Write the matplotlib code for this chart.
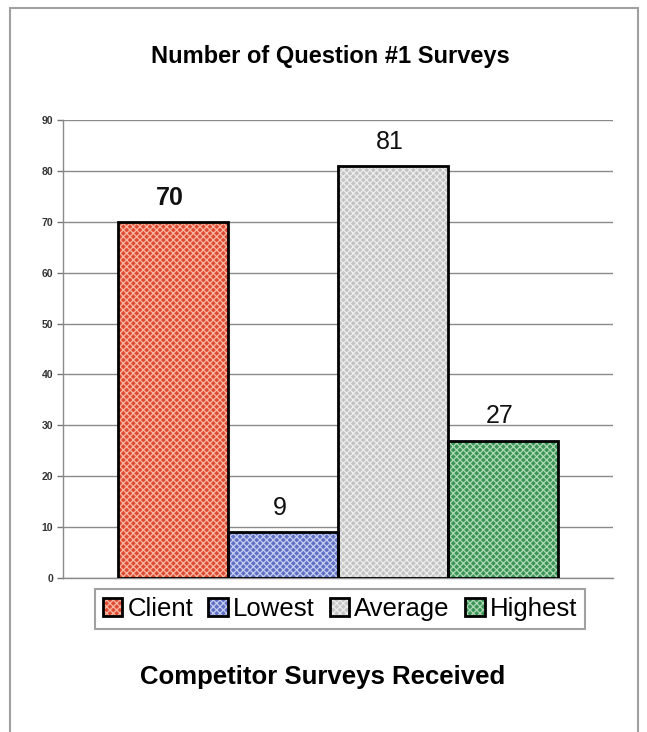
import matplotlib
matplotlib.use("Agg")
import matplotlib.pyplot as plt
from matplotlib.patches import Rectangle

plt.rcParams['font.family'] = ['Liberation Sans', 'DejaVu Sans']

# survey counts per group
categories = ["Client", "Lowest", "Average", "Highest"]
counts = [70, 9, 81, 27]
bold_label = [True, False, False, False]

# base fill and lighter crosshatch per bar
fill_colors = ["#e04a33", "#5f6fc4", "#c4c4c4", "#3a9455"]
hatch_colors = ["#f6b8a2", "#c5cdf0", "#ededed", "#aed8b6"]

fig = plt.figure(figsize=(6.47, 7.32), dpi=100)

# gray border around the whole chart
fig.patches.append(Rectangle((10 / 647, -0.05), 628 / 647, 1.05 - 8 / 732,
                             transform=fig.transFigure, fill=False,
                             edgecolor="#a0a0a0", linewidth=1.5))

ax = fig.add_axes([63 / 647, 154 / 732, 550 / 647, 458 / 732])

x = range(len(categories))
plt.rcParams['hatch.linewidth'] = 0.9
hatched = ax.bar(x, counts, width=1.0, color=fill_colors, linewidth=0, zorder=2)
for bar, hc in zip(hatched, hatch_colors):
    bar.set_hatch("xxxxx")
    bar.set_edgecolor(hc)
outline = ax.bar(x, counts, width=1.0, fill=False, edgecolor="black",
                 linewidth=2, zorder=3)

for xi, v, b in zip(x, counts, bold_label):
    ax.text(xi - 0.03, v + 2.4, str(v), ha="center", va="bottom", fontsize=18,
            fontweight="bold" if b else "normal", color="#111111")

ax.set_xlim(-1, 4)
ax.set_ylim(0, 90)
ax.set_yticks(range(0, 91, 10))
ax.set_xticks([])
ax.grid(axis="y", color="#8a8a8a", linewidth=1.0, zorder=0)
ax.tick_params(axis="y", labelsize=7.5, colors="#777777", length=4, width=1,
               labelcolor="#333333", pad=3)
for lbl in ax.get_yticklabels():
    lbl.set_fontweight("bold")
for side in ("top", "right"):
    ax.spines[side].set_visible(False)
ax.spines["left"].set_color("#8a8a8a")
ax.spines["bottom"].set_color("#8a8a8a")
ax.spines["left"].set_linewidth(1.0)
ax.spines["bottom"].set_linewidth(1.0)

fig.text(330 / 647, 1 - 56 / 732, "Number of Question #1 Surveys",
         ha="center", va="center", fontsize=17, fontweight="bold")
fig.text(323 / 647, 1 - 677 / 732, "Competitor Surveys Received",
         ha="center", va="center", fontsize=18.5, fontweight="bold")

handles = [(h, o) for h, o in zip(hatched, outline)]
leg = fig.legend(handles, categories, loc="center", ncol=4,
                 bbox_to_anchor=(340 / 647, 1 - 609 / 732), fontsize=18.5,
                 frameon=True, fancybox=False, edgecolor="#8a8a8a",
                 handlelength=0.75, handleheight=0.75, handletextpad=0.2,
                 columnspacing=0.6, borderpad=0.3, borderaxespad=0)
leg.get_frame().set_linewidth(1.5)

fig.savefig("out.png", dpi=100)
